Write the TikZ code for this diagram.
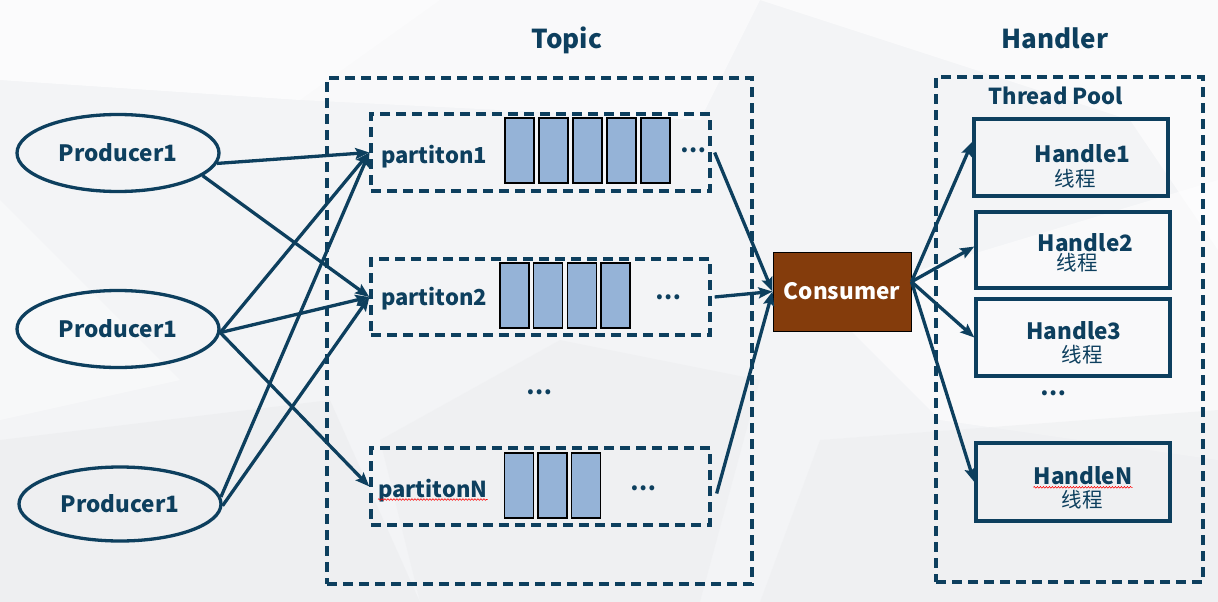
\documentclass[tikz,border=0pt]{standalone}
\usepackage{fontspec}
\setmainfont{Noto Sans CJK SC}
\usetikzlibrary{arrows.meta,shapes.geometric,decorations.pathmorphing}
\definecolor{navy}{HTML}{0D3F5E}
\definecolor{cellblue}{HTML}{95B3D7}
\definecolor{brown}{HTML}{843C0C}
\definecolor{bgbase}{HTML}{F3F4F6}
\definecolor{bgdark}{HTML}{EDEEF0}
\begin{document}
\begin{tikzpicture}[x=1pt,y=-1pt,
  fs/.style={font=\bfseries\fontsize{#1}{#1}\selectfont},
  prod/.style={ellipse,draw=navy,line width=3.3pt,minimum width=202pt,minimum height=77pt,inner sep=0pt,text=navy,fs=22.5},
  dbox/.style={draw=navy,line width=3.3pt,dash pattern=on 10pt off 6pt,inner sep=0pt},
  cell/.style={draw=black,line width=1.6pt,fill=cellblue,minimum width=29pt,minimum height=65pt,inner sep=0pt},
  plabel/.style={text=navy,fs=22,inner sep=0pt},
  title/.style={text=navy,fs=26,inner sep=0pt},
  dots/.style={text=navy,fs=23,inner sep=0pt},
  hbox/.style={draw=navy,line width=3.4pt,minimum width=194pt,inner sep=0pt},
  hl/.style={text=navy,fs=22.5,inner sep=0pt},
  hc/.style={text=navy,font=\fontsize{20.5}{20.5}\selectfont,inner sep=0pt},
  arr/.style={draw=navy,line width=3.3pt,-{Stealth[length=14pt,width=11pt,inset=2.5pt]}},
  wavy/.style={draw=red,line width=0.6pt,decorate,decoration={snake,amplitude=0.8pt,segment length=3pt}}
]
\useasboundingbox (0,0) rectangle (1218,602);
% background
\fill[bgbase] (0,0) rectangle (1218,602);
\fill[white,opacity=0.7] (0,0) -- (440,0) -- (300,100) -- (0,80) -- cycle;
\fill[white,opacity=0.5] (440,0) -- (760,0) -- (700,120) -- (300,100) -- cycle;
\fill[white,opacity=0.6] (760,0) -- (1218,0) -- (1218,250) -- (1130,120) -- cycle;
\fill[white,opacity=0.5] (820,300) -- (1218,180) -- (1218,460) -- (940,420) -- cycle;
\fill[bgdark,opacity=0.7] (0,440) -- (330,400) -- (420,602) -- (0,602) -- cycle;
\fill[bgdark,opacity=0.5] (380,440) -- (560,340) -- (760,380) -- (700,602) -- (420,602) -- cycle;
\fill[bgdark,opacity=0.5] (820,440) -- (1218,410) -- (1218,602) -- (760,602) -- cycle;
\fill[white,opacity=0.4] (0,200) -- (180,380) -- (0,420) -- cycle;

% titles
\node[title] (ttopic) at (567,40) {Topic};
\node[title] (thandler) at (1055,38) {Handler};

% outer boxes
\node[dbox,minimum width=425pt,minimum height=506pt] (topic) at (539.5,331) {};
\node[dbox,minimum width=267pt,minimum height=505pt] (pool) at (1069.5,329.5) {};
\node[text=navy,fs=22,inner sep=0pt] (tpool) at (1055.5,96) {Thread Pool};

% partitions
\node[dbox,minimum width=339pt,minimum height=77pt] (pa1) at (540.5,152.5) {};
\node[dbox,minimum width=339pt,minimum height=76pt] (pa2) at (540.5,297) {};
\node[dbox,minimum width=339pt,minimum height=77pt] (paN) at (540.5,486.5) {};
\node[plabel,anchor=base west] (l1) at (381,163) {partiton1};
\node[plabel,anchor=base west] (l2) at (381,305) {partiton2};
\node[plabel,anchor=base west] (lN) at (378,497) {partitonN};
\draw[wavy] ([yshift=-2.5pt]lN.base west) -- ([yshift=-2.5pt]lN.base east);

\foreach \k in {0,...,4} \node[cell] (ca\k) at (519.5+34*\k,150.5) {};
\foreach \k in {0,...,3} \node[cell] (cb\k) at (514.5+33.67*\k,295.5) {};
\foreach \k in {0,...,2} \node[cell] (cn\k) at (519+33.5*\k,485.5) {};

\node[dots] (d1) at (693,150) {…};
\node[dots] (d2) at (668,297) {…};
\node[dots] (dN) at (643,488) {…};
\node[dots] (dm) at (539,392) {…};

% producers
\node[prod] (p1) at (118,153) {Producer1};
\node[prod] (p2) at (118,329) {Producer1};
\node[prod,minimum height=74pt] (p3) at (120,504) {Producer1};

% consumer
\node[draw=black,line width=1pt,fill=brown,minimum width=138pt,minimum height=79pt,inner sep=0pt,text=white,fs=22.5] (cons) at (842,291.5) {Consumer};

% handlers
\node[hbox,minimum height=77pt] (h1) at (1071,157.5) {};
\node[hbox,minimum height=76pt] (h2) at (1073,250) {};
\node[hbox,minimum height=77pt] (h3) at (1073,337.5) {};
\node[hbox,minimum height=78pt] (hN) at (1073,482) {};
\node[hl] (h1t) at (1082.5,153.5) {Handle1};
\node[hc] (h1c) at (1075,178.5) {线程};
\node[hl] (h2t) at (1085.5,243) {Handle2};
\node[hc] (h2c) at (1077,263) {线程};
\node[hl] (h3t) at (1074,330.5) {Handle3};
\node[hc] (h3c) at (1082,355) {线程};
\node[hl] (hNt) at (1083,475.5) {HandleN};
\node[hc] (hNc) at (1082,500) {线程};
\draw[wavy] ([yshift=-3pt]hNt.base west) -- ([yshift=-3pt]hNt.base east);
\node[dots] (dh) at (1053,393) {…};

% producer arrows
\draw[arr] (p1.-6) -- (pa1.west);
\draw[arr] (p1.-15) -- (pa2.west);
\draw[arr] (p2.-2) -- (pa1.west);
\draw[arr] (p2.-2) -- (pa2.west);
\draw[arr] (p2.-2) -- (paN.west);
\draw[arr] (p3.4) -- (pa1.west);
\draw[arr] (p3.-1) -- (pa2.west);

% partition to consumer
\draw[arr] ([xshift=3pt]pa1.east) -- (cons.west);
\draw[arr] ([xshift=3pt]pa2.east) -- (cons.west);
\draw[arr] ([xshift=5pt,yshift=-7pt]paN.east) -- (cons.west);

% consumer to handlers
\draw[arr] (cons.8) -- (h1.171);
\draw[arr] (cons.8) -- (h2.178);
\draw[arr] (cons.8) -- (h3.west);
\draw[arr] (cons.8) -- (hN.west);
\end{tikzpicture}
\end{document}
